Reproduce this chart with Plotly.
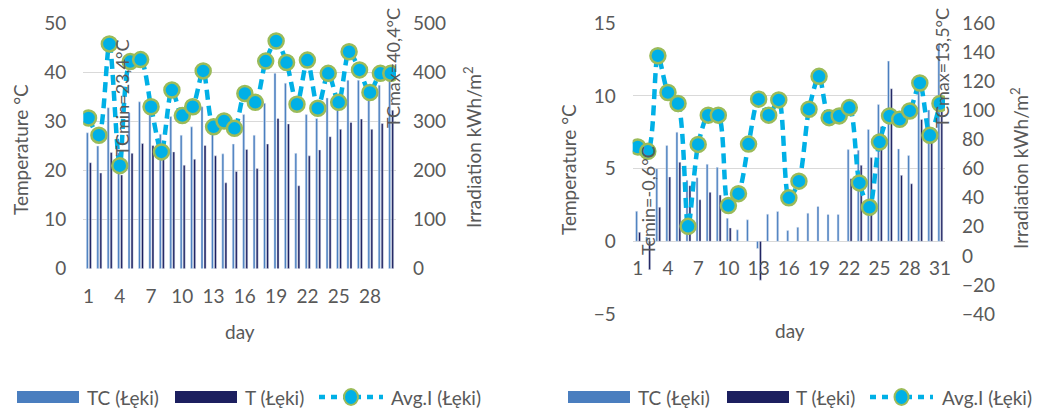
import plotly.graph_objects as go

# ---------------- data ----------------
days_left = list(range(1, 31))
tc_left = [27.7, 25.0, 32.8, 23.6, 31.8, 34.0, 32.0, 27.4, 31.0, 27.2, 28.9, 33.0, 27.6, 23.4, 25.4,
           31.4, 27.2, 33.7, 39.8, 37.8, 23.5, 31.4, 30.6, 34.8, 34.7, 38.4, 38.4, 35.0, 37.4, 40.4]
t_left = [21.6, 19.5, 23.7, 19.1, 23.5, 25.5, 25.1, 23.0, 23.8, 21.1, 22.3, 25.1, 23.0, 17.5, 19.8,
          24.3, 20.4, 25.4, 30.6, 29.5, 16.9, 23.0, 24.2, 26.9, 28.4, 29.8, 30.5, 28.4, 29.6, 32.3]
irr_left = [307, 272, 458, 210, 422, 426, 330, 238, 364, 312, 330, 403, 289, 301, 286,
            357, 339, 423, 464, 420, 335, 425, 327, 398, 339, 442, 405, 359, 398, 398]

days_right = list(range(1, 32))
tc_right = [2.07, 0.3, 5.0, 6.59, 7.51, 4.2, 4.38, 5.30, 5.09, 1.59, 0.79, 1.48, -0.5, 1.87, 2.05, 0.74,
            0.97, 1.94, 2.40, 1.85, 1.85, 6.31, 6.27, 7.70, 9.42, 12.4, 6.36, 5.90, 10.8, 9.03, 13.5]
t_right = [0.62, -1.95, 2.35, 4.43, 5.44, 3.83, 2.86, 3.37, 3.18, 0.92, None, None, -2.67, None, None, None,
           None, None, None, None, None, 4.31, 5.23, 5.76, 7.88, 10.5, 4.54, 3.96, 8.39, 7.19, 9.5]
irr_right = [74.9, 71.9, 137.7, 112.4, 104.8, 20.3, 76.7, 96.8, 96.8, 34.6, 42.8, 76.9, 107.8, 96.8, 107.3, 39.9,
             51.4, 100.9, 123.5, 95.1, 96.3, 102, 50.2, 33.4, 78.3, 96.3, 94, 99.7, 118.9, 82.9, 104.8]

ticks_left = list(range(1, 31, 3))
ticks_right = list(range(1, 32, 3))

series_names = ["TC (Łęki)", "T (Łęki)", "Avg.I (Łęki)"]
notes_left = ["TCmin=23,4°C", "TCmax=40,4°C"]
notes_right = ["Temin=-0,6°C", "TCmax=13,5°C"]

# ---------------- style ----------------
W, H = 1040, 411
LIGHT = "#4a7ebf"
DARK = "#1c1f5f"
CYAN = "#00b0e6"
EDGE = "#9bbb59"
GRID = "#d9d9d9"
TXT = "#595959"
FONT = "Lato"
TICK = dict(family=FONT, size=19, color=TXT)


def px(x):
    return x / W


def py(y):
    return 1 - y / H


fig = go.Figure()

LINE = dict(color=CYAN, width=4.5, dash="10px,6px", shape="spline", smoothing=0.8)
MARK = dict(size=15, color=CYAN, line=dict(color=EDGE, width=2.5))

# left chart
fig.add_trace(go.Bar(x=days_left, y=tc_left, name=series_names[0], marker_color=LIGHT,
                     width=0.2, offset=-0.21, xaxis="x", yaxis="y", showlegend=False))
fig.add_trace(go.Bar(x=days_left, y=t_left, name=series_names[1], marker_color=DARK,
                     width=0.2, offset=0.08, xaxis="x", yaxis="y", showlegend=False))
fig.add_trace(go.Scatter(x=days_left, y=irr_left, name=series_names[2], mode="lines+markers",
                         line=LINE, marker=MARK, xaxis="x", yaxis="y2", showlegend=False))

# right chart
fig.add_trace(go.Bar(x=days_right, y=tc_right, name=series_names[0], marker_color=LIGHT,
                     width=0.2, offset=-0.21, xaxis="x2", yaxis="y3", showlegend=False))
fig.add_trace(go.Bar(x=days_right, y=t_right, name=series_names[1], marker_color=DARK,
                     width=0.2, offset=0.08, xaxis="x2", yaxis="y3", showlegend=False))
fig.add_trace(go.Scatter(x=days_right, y=irr_right, name=series_names[2], mode="lines+markers",
                         line=LINE, marker=MARK, xaxis="x2", yaxis="y4", showlegend=False))

L_X0, L_X1, L_Y0, L_Y1 = 83.3, 396, 23.3, 268.7
R_X0, R_X1, R_Y0, R_Y1 = 632.7, 945, 23.3, 314
R_ZERO = 240.7

COMMON = dict(zeroline=False, showline=False, ticks="", tickfont=TICK, automargin=False)

fig.update_layout(
    width=W, height=H, margin=dict(l=0, r=0, t=0, b=0, autoexpand=False),
    paper_bgcolor="white", plot_bgcolor="white",
    font=dict(family=FONT, color=TXT),
    barmode="overlay",
    xaxis=dict(domain=[px(L_X0), px(L_X1)], anchor="y", range=[0.5, 30.5], tickvals=ticks_left,
               showgrid=False, ticklabelstandoff=14, **COMMON),
    yaxis=dict(domain=[py(L_Y1), py(L_Y0)], anchor="x", range=[0, 50], dtick=10,
               gridcolor=GRID, gridwidth=1, ticklabelstandoff=16, **COMMON),
    yaxis2=dict(overlaying="y", anchor="x", side="right", range=[0, 500], dtick=100,
                showgrid=False, ticklabelstandoff=16, **COMMON),
    xaxis2=dict(domain=[px(R_X0), px(R_X1)], anchor="free", position=py(R_ZERO), range=[0.5, 31.5],
                tickvals=ticks_right, showgrid=False, ticklabelstandoff=14, **COMMON),
    yaxis3=dict(domain=[py(R_Y1), py(R_Y0)], anchor="x2", range=[-5, 15], dtick=5,
                gridcolor=GRID, gridwidth=1, ticklabelstandoff=16, **COMMON),
    yaxis4=dict(overlaying="y3", anchor="x2", side="right", range=[-40, 160], dtick=20,
                showgrid=False, ticklabelstandoff=16, **COMMON),
)

ann = []


def note(text, x, y, angle=0, size=19):
    ann.append(dict(text=text, x=px(x), y=py(y), xref="paper", yref="paper", showarrow=False,
                    textangle=angle, font=dict(family=FONT, size=size, color=TXT),
                    xanchor="center", yanchor="middle"))


# axis titles
note("Temperature °C", 20, 150, -90)
note("Irradiation kWh/m<sup>2</sup>", 472, 147, -90)
note("day", 240, 331)
note("Temperature °C", 569, 170, -90)
note("Irradiation kWh/m<sup>2</sup>", 1020, 168, -90)
note("day", 790, 330)

# text labels
note(notes_left[0], 122, 98, -90, 18)
note(notes_left[1], 393, 68, -90, 18)
note(notes_right[0], 648, 201, -90, 18)
note(notes_right[1], 942, 68, -90, 18)

# manual legends
shapes = []
LEG_Y = 397


def legend(x_rect1, x_text1, x_rect2, x_text2, x_line0, x_line1, x_text3):
    shapes.append(dict(type="rect", xref="paper", yref="paper", x0=px(x_rect1), x1=px(x_rect1 + 62),
                       y0=py(LEG_Y + 6), y1=py(LEG_Y - 6), fillcolor=LIGHT, line=dict(width=0)))
    shapes.append(dict(type="rect", xref="paper", yref="paper", x0=px(x_rect2), x1=px(x_rect2 + 62),
                       y0=py(LEG_Y + 6), y1=py(LEG_Y - 6), fillcolor=DARK, line=dict(width=0)))
    shapes.append(dict(type="line", xref="paper", yref="paper", x0=px(x_line0), x1=px(x_line1),
                       y0=py(LEG_Y), y1=py(LEG_Y), line=dict(color=CYAN, width=4.5, dash="6px,6px")))
    cx = (x_line0 + x_line1) / 2
    shapes.append(dict(type="circle", xref="paper", yref="paper", x0=px(cx - 7), x1=px(cx + 7),
                       y0=py(LEG_Y + 8), y1=py(LEG_Y - 8), fillcolor=CYAN, line=dict(color=EDGE, width=2)))
    for t, x in zip(series_names, [x_text1, x_text2, x_text3]):
        ann.append(dict(text=t, x=px(x), y=py(LEG_Y), xref="paper", yref="paper", showarrow=False,
                        font=dict(family=FONT, size=19, color=TXT), xanchor="left", yanchor="middle"))


legend(17, 85, 175, 243, 319, 383, 389)
legend(568, 636, 727, 794, 870, 933, 940)

fig.update_layout(annotations=ann, shapes=shapes)
fig.write_html("out.html", config={"displayModeBar": False},
               post_script="document.body.style.margin='0';document.body.style.overflow='hidden';")
